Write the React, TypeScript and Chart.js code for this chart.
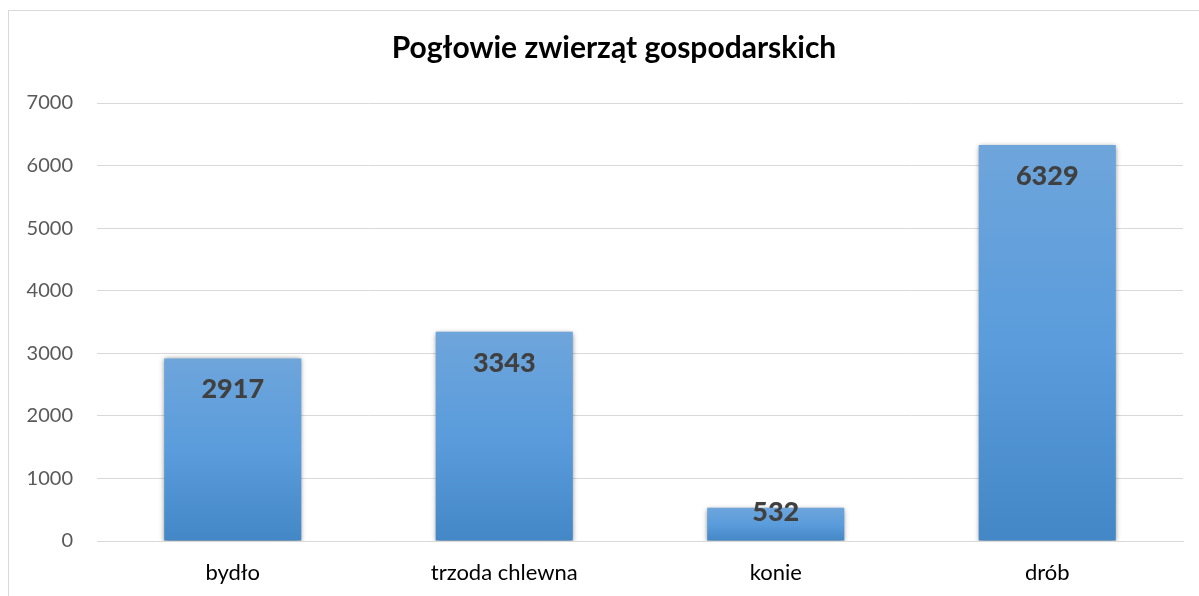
import React, { useEffect, useRef } from "react";
import { Chart, registerables } from "chart.js";

Chart.register(...registerables);

const categories: string[] = ["bydło", "trzoda chlewna", "konie", "drób"];
const values: number[] = [2917, 3343, 532, 6329];
const titleText = "Pogłowie zwierząt gospodarskich";
const yMax = 7000;
const yStep = 1000;

const FONT = "Lato, 'Open Sans', sans-serif";

const framePlugin = {
  id: "frameAndTitle",
  beforeDraw(chart: any) {
    const ctx = chart.ctx;
    ctx.save();
    ctx.fillStyle = "#ffffff";
    ctx.fillRect(0, 0, chart.width, chart.height);
    ctx.strokeStyle = "#d9d9d9";
    ctx.lineWidth = 1;
    ctx.strokeRect(8.5, 10.5, chart.width + 20, chart.height + 20);
    ctx.fillStyle = "#000000";
    ctx.font = `bold 30px ${FONT}`;
    ctx.textAlign = "center";
    ctx.textBaseline = "alphabetic";
    ctx.fillText(titleText, 614, 58);
    ctx.restore();
  },
  beforeDatasetsDraw(chart: any) {
    const ctx = chart.ctx;
    ctx.save();
    ctx.shadowColor = "rgba(0,0,0,0.5)";
    ctx.shadowBlur = 5;
    ctx.shadowOffsetX = 0;
    ctx.shadowOffsetY = 1;
  },
  afterDatasetsDraw(chart: any) {
    const ctx = chart.ctx;
    ctx.restore();
    const meta = chart.getDatasetMeta(0);
    const base = chart.scales.y.getPixelForValue(0);
    ctx.save();
    ctx.fillStyle = "#404040";
    ctx.font = `900 27px ${FONT}`;
    ctx.textAlign = "center";
    ctx.textBaseline = "middle";
    meta.data.forEach((bar: any, i: number) => {
      const y = Math.min(bar.y + 31, base - 29);
      ctx.fillText(String(values[i]), bar.x, y);
    });
    ctx.restore();
  },
};

export default function App() {
  const ref = useRef<HTMLCanvasElement | null>(null);
  useEffect(() => {
    if (!ref.current) return;
    const chart = new Chart(ref.current, {
      type: "bar",
      data: {
        labels: categories,
        datasets: [
          {
            data: values,
            backgroundColor: (c: any) => {
              const ch = c.chart;
              if (!ch.chartArea || c.dataIndex === undefined) return "#5b9bd5";
              const y = ch.scales.y;
              const top = y.getPixelForValue(values[c.dataIndex]);
              const bot = y.getPixelForValue(0);
              const g = ch.ctx.createLinearGradient(0, top, 0, bot);
              g.addColorStop(0, "#6ea5db");
              g.addColorStop(0.5, "#5a9cdc");
              g.addColorStop(1, "#4487c6");
              return g;
            },
            borderWidth: 0,
            categoryPercentage: 1,
            barPercentage: 0.505,
          },
        ],
      },
      options: {
        animation: false,
        responsive: false,
        maintainAspectRatio: false,
        layout: { padding: { top: 103, right: 16, left: 0, bottom: 0 } },
        plugins: {
          legend: { display: false },
          title: { display: false },
          tooltip: { enabled: false },
        },
        scales: {
          x: {
            grid: { display: false, drawTicks: false },
            border: { display: true, color: "#d9d9d9", width: 1 },
            ticks: {
              color: "#000000",
              font: { family: FONT, size: 22 },
              padding: 19,
            },
            afterFit: (s: any) => {
              s.height = 55;
            },
          },
          y: {
            min: 0,
            max: yMax,
            ticks: {
              stepSize: yStep,
              color: "#595959",
              font: { family: FONT, size: 20 },
              padding: 24,
              callback: (v: any) => String(v),
            },
            grid: { color: "#d9d9d9", lineWidth: 1, drawTicks: false },
            border: { display: false },
            afterFit: (s: any) => {
              s.width = 97;
            },
          },
        },
      },
      plugins: [framePlugin],
    });
    return () => chart.destroy();
  }, []);
  return (
    <div style={{ position: "absolute", left: 0, top: 0, width: 1199, height: 596 }}>
      <canvas ref={ref} width={1199} height={596} style={{ display: "block" }} />
    </div>
  );
}
